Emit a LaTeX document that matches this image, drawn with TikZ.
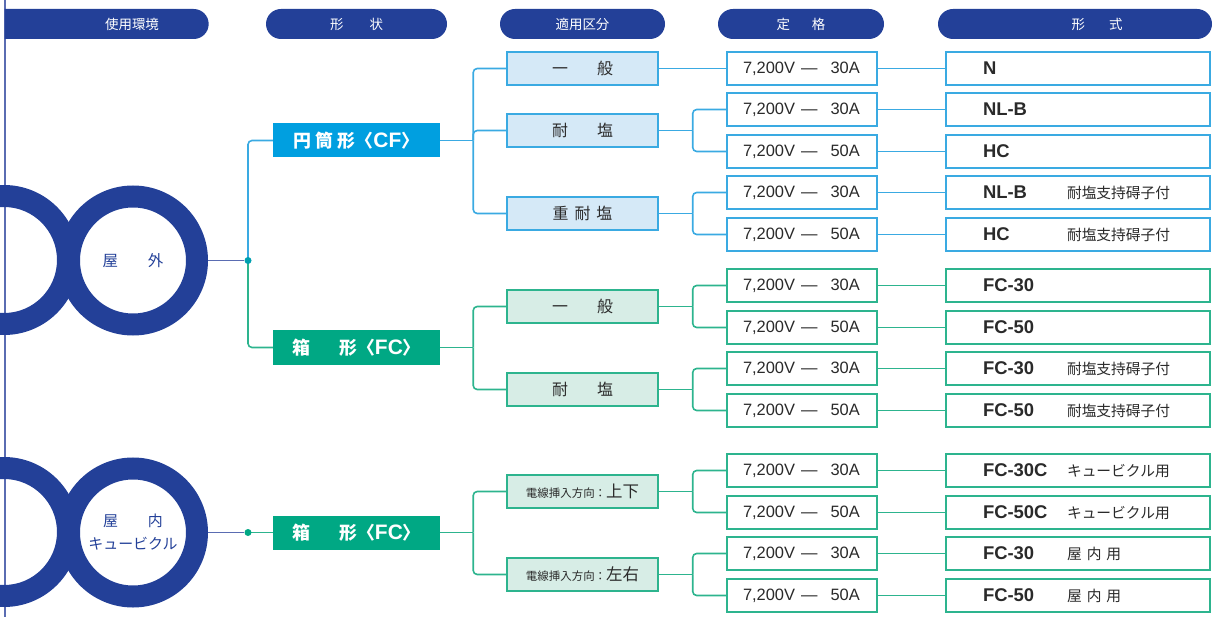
\documentclass[tikz,border=0pt]{standalone}
\usepackage{fontspec}
\setmainfont{Liberation Sans}
\newfontfamily\jp{Noto Sans CJK JP}
\usetikzlibrary{shapes.misc}
\definecolor{navy}{HTML}{234098}
\definecolor{navl}{HTML}{5A6CB2}
\definecolor{cfc}{HTML}{009FE0}
\definecolor{fcc}{HTML}{00A884}
\definecolor{cfl}{HTML}{3AAAE2}
\definecolor{fcl}{HTML}{2DB48E}
\definecolor{cffill}{HTML}{D5E9F7}
\definecolor{fcfill}{HTML}{D7EDE6}
\definecolor{ink}{HTML}{2A2A2A}
\definecolor{dotc}{HTML}{00A0B0}
\newcommand\pxs[1]{\fontsize{#1}{#1}\selectfont}
\newcommand\ratg[1]{7,200V\hspace{6bp}—\hspace{13bp}#1A}
\newcommand\modl[2]{\makebox[84bp][l]{\bfseries #1}{\jp\pxs{14.8}#2}}
\newcommand\lat[1]{{\fontspec{Liberation Sans}\bfseries\pxs{21}#1}}
\pgfdeclarelayer{bg}\pgfsetlayers{bg,main}
\tikzset{
  hdr/.style={rounded rectangle, fill=navy, text=white, minimum height=30bp, inner sep=0pt, font=\jp\pxs{13.5}},
  ring/.style={circle, draw=navy, line width=22bp, minimum size=128bp, inner sep=0pt, outer sep=11bp, text=navy, align=center},
  dot/.style={circle, inner sep=0pt, minimum size=7bp},
  shapebox/.style={minimum width=167bp, minimum height=34bp, inner sep=0pt, text=white, font=\jp\bfseries\pxs{18}},
  cfbox/.style={shapebox, fill=cfc},
  fcbox/.style={shapebox, fill=fcc},
  usebox/.style={minimum width=151bp, minimum height=33bp, inner sep=0pt, line width=1.4bp, text=ink, font=\jp\pxs{16}},
  cf3/.style={usebox, fill=cffill, draw=cfl},
  fc3/.style={usebox, fill=fcfill, draw=fcl},
  rate/.style={fill=white, line width=1.5bp, minimum height=33bp, inner ysep=0pt, inner xsep=16bp, text width=118bp, align=left, text=ink, font=\pxs{16.5}},
  modelbox/.style={fill=white, line width=1.5bp, minimum height=33bp, inner ysep=0pt, inner xsep=37bp, text width=190bp, align=left, text=ink, font=\pxs{18.5}},
  cfr/.style={rate, draw=cfl}, fcr/.style={rate, draw=fcl},
  cfm/.style={modelbox, draw=cfl}, fcm/.style={modelbox, draw=fcl},
  cfln/.style={draw=cfl, line width=1.6bp},
  fcln/.style={draw=fcl, line width=1.6bp},
  navln/.style={draw=navl, line width=1.6bp},
  rc/.style={rounded corners=4bp}
}
\begin{document}
\begin{tikzpicture}[x=1bp,y=-1bp]
\useasboundingbox (0,0) rectangle (1213,617);
\draw[navl, line width=1.5bp] (5,0) -- (5,617);
% headers
\node[hdr, rounded rectangle west arc=none, minimum width=204bp] (h1) at (106,24) {\hspace{52bp}使用環境};
\node[hdr, minimum width=181bp] (h2) at (356.5,24) {形\hspace{26bp}状};
\node[hdr, minimum width=165bp] (h3) at (582.5,24) {適用区分};
\node[hdr, minimum width=166bp] (h4) at (801,24) {定\hspace{22bp}格};
\node[hdr, minimum width=274bp] (h5) at (1075,24) {\hspace{44bp}形\hspace{24bp}式};
% circles
\fill[navy, even odd rule] (4,260) circle[radius=75] (4,260) circle[radius=53];
\fill[navy, even odd rule] (4,532) circle[radius=75] (4,532) circle[radius=53];
\node[ring, font=\jp\pxs{15.5}] (c1) at (133,260.5) {屋\hspace{30bp}外};
\node[ring, font=\jp\fontsize{15}{23}\selectfont] (c2) at (133,532.5) {屋\hspace{30bp}内\\キュービクル};
\node[dot, fill=dotc] (d1) at (248,260.5) {};
\node[dot, fill=fcc] (d2) at (248,532.5) {};
% shape boxes
\node[cfbox] (cf) at (356.5,140.5) {円\hspace{4bp}筒\hspace{4bp}形〈\lat{CF}〉};
\node[fcbox] (fo) at (356.5,347.5) {箱\hspace{29bp}形〈\lat{FC}〉};
\node[fcbox] (fi) at (356.5,532.5) {箱\hspace{29bp}形〈\lat{FC}〉};
% usage boxes
\node[cf3] (a1) at (582.5,68.5) {一\hspace{29bp}般};
\node[cf3] (a2) at (582.5,130.5) {耐\hspace{29bp}塩};
\node[cf3] (a3) at (582.5,213.5) {重\hspace{6bp}耐\hspace{6bp}塩};
\node[fc3] (a4) at (582.5,306.5) {一\hspace{29bp}般};
\node[fc3] (a5) at (582.5,389.5) {耐\hspace{29bp}塩};
\node[fc3] (a6) at (582.5,491.5) {{\pxs{11.5}電線挿入方向：}{\pxs{16.5}上下}};
\node[fc3] (a7) at (582.5,574.5) {{\pxs{11.5}電線挿入方向：}{\pxs{16.5}左右}};
% ratings
\node[cfr] (r1) at (802,68.5) {\ratg{30}};
\node[cfr] (r2) at (802,109.5) {\ratg{30}};
\node[cfr] (r3) at (802,151.5) {\ratg{50}};
\node[cfr] (r4) at (802,192.5) {\ratg{30}};
\node[cfr] (r5) at (802,234.5) {\ratg{50}};
\node[fcr] (r6) at (802,285.5) {\ratg{30}};
\node[fcr] (r7) at (802,327.5) {\ratg{50}};
\node[fcr] (r8) at (802,368.5) {\ratg{30}};
\node[fcr] (r9) at (802,410.5) {\ratg{50}};
\node[fcr] (r10) at (802,470.5) {\ratg{30}};
\node[fcr] (r11) at (802,512.5) {\ratg{50}};
\node[fcr] (r12) at (802,553.5) {\ratg{30}};
\node[fcr] (r13) at (802,595.5) {\ratg{50}};
% models
\node[cfm] (m1) at (1078,68.5) {\modl{N}{}};
\node[cfm] (m2) at (1078,109.5) {\modl{NL-B}{}};
\node[cfm] (m3) at (1078,151.5) {\modl{HC}{}};
\node[cfm] (m4) at (1078,192.5) {\modl{NL-B}{耐塩支持碍子付}};
\node[cfm] (m5) at (1078,234.5) {\modl{HC}{耐塩支持碍子付}};
\node[fcm] (m6) at (1078,285.5) {\modl{FC-30}{}};
\node[fcm] (m7) at (1078,327.5) {\modl{FC-50}{}};
\node[fcm] (m8) at (1078,368.5) {\modl{FC-30}{耐塩支持碍子付}};
\node[fcm] (m9) at (1078,410.5) {\modl{FC-50}{耐塩支持碍子付}};
\node[fcm] (m10) at (1078,470.5) {\modl{FC-30C}{キュービクル用}};
\node[fcm] (m11) at (1078,512.5) {\modl{FC-50C}{キュービクル用}};
\node[fcm] (m12) at (1078,553.5) {\modl{FC-30}{屋\hspace{5bp}内\hspace{5bp}用}};
\node[fcm] (m13) at (1078,595.5) {\modl{FC-50}{屋\hspace{5bp}内\hspace{5bp}用}};
% connectors
\begin{pgfonlayer}{bg}
\draw[navln] (c1) -- (d1);
\draw[cfln, rc] (d1.center) |- (cf.west);
\draw[fcln, rc] (d1.center) |- (fo.west);
\draw[navln] (c2) -- (d2);
\draw[fcln] (d2.center) -- (fi.west);
\draw[cfln] (cf.east) -- ++(33,0) coordinate (j1);
\foreach \t in {a1,a2,a3} \draw[cfln, rc] (j1) |- (\t.west);
\draw[fcln] (fo.east) -- ++(33,0) coordinate (j2);
\foreach \t in {a4,a5} \draw[fcln, rc] (j2) |- (\t.west);
\draw[fcln] (fi.east) -- ++(33,0) coordinate (j3);
\foreach \t in {a6,a7} \draw[fcln, rc] (j3) |- (\t.west);
\draw[cfln] (a1) -- (r1);
\foreach \s/\p/\q/\st in {a2/r2/r3/cfln, a3/r4/r5/cfln, a4/r6/r7/fcln, a5/r8/r9/fcln, a6/r10/r11/fcln, a7/r12/r13/fcln} {
  \draw[\st] (\s.east) -- ++(34,0) coordinate (k);
  \draw[\st, rc] (k) |- (\p.west);
  \draw[\st, rc] (k) |- (\q.west);
}
\foreach \i in {1,...,5} \draw[cfln] (r\i) -- (m\i);
\foreach \i in {6,...,13} \draw[fcln] (r\i) -- (m\i);
\end{pgfonlayer}
\end{tikzpicture}
\end{document}
